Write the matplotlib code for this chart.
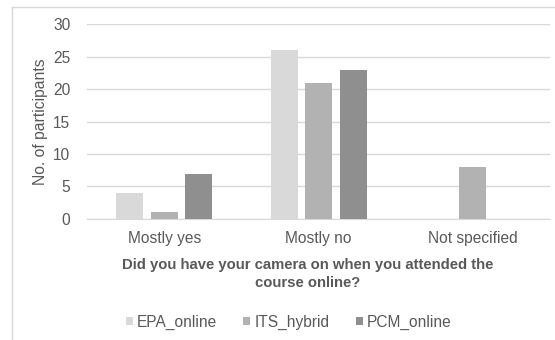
import matplotlib
matplotlib.use("Agg")
import matplotlib.pyplot as plt
import numpy as np
from matplotlib.lines import Line2D
from matplotlib.patches import Patch

plt.rcParams['font.family'] = ['Liberation Sans', 'DejaVu Sans']

categories = ['Mostly yes', 'Mostly no', 'Not specified']
series_names = ['EPA_online', 'ITS_hybrid', 'PCM_online']
epa_online = [4, 26, 0]
its_hybrid = [1, 21, 8]
pcm_online = [7, 23, 0]
colors = ['#d9d9d9', '#b2b2b2', '#8f8f8f']
text_col = '#595959'

fig = plt.figure(figsize=(5.55, 3.4), dpi=100)
ax = fig.add_axes([0.157, 0.356, 0.834, 0.573])

x = np.arange(len(categories))
w = 0.175
step = 0.224
for i, (vals, c) in enumerate(zip([epa_online, its_hybrid, pcm_online], colors)):
    ax.bar(x + (i - 1) * step, vals, width=w, color=c, zorder=3)

ax.set_xlim(-0.5, 2.5)
ax.set_ylim(0, 30)
ax.set_yticks(range(0, 31, 5))
ax.set_xticks(x)
ax.set_xticklabels(categories)
ax.tick_params(length=0, labelsize=11.2, colors=text_col, pad=9)
ax.tick_params(axis='y', pad=12)
ax.grid(axis='y', color='#d9d9d9', linewidth=1, zorder=0)
for s in ['top', 'right', 'left']:
    ax.spines[s].set_visible(False)
ax.spines['bottom'].set_color('#d9d9d9')

ax.set_ylabel('No. of participants', fontsize=11.3, color=text_col)
ax.yaxis.set_label_coords(-0.085, 0.5)

fig.text(0.555, 0.194, 'Did you have your camera on when you attended the\ncourse online?',
         ha='center', va='center', fontsize=10.7, fontweight='bold', color=text_col,
         linespacing=1.35)

handles = [Patch(facecolor=c, edgecolor='none') for c in colors]
fig.legend(handles, series_names, loc='center', bbox_to_anchor=(0.52, 0.053), ncol=3,
           frameon=False, fontsize=11.2, labelcolor=text_col, handlelength=0.45,
           handleheight=0.45, handletextpad=0.25, columnspacing=1.7)

# chart area border
fig.add_artist(Line2D([12 / 555, 12 / 555], [0, 1 - 7 / 340], color='#d9d9d9', linewidth=1))
fig.add_artist(Line2D([12 / 555, 1], [1 - 7 / 340, 1 - 7 / 340], color='#d9d9d9', linewidth=1))

fig.savefig('out.png', dpi=100)
